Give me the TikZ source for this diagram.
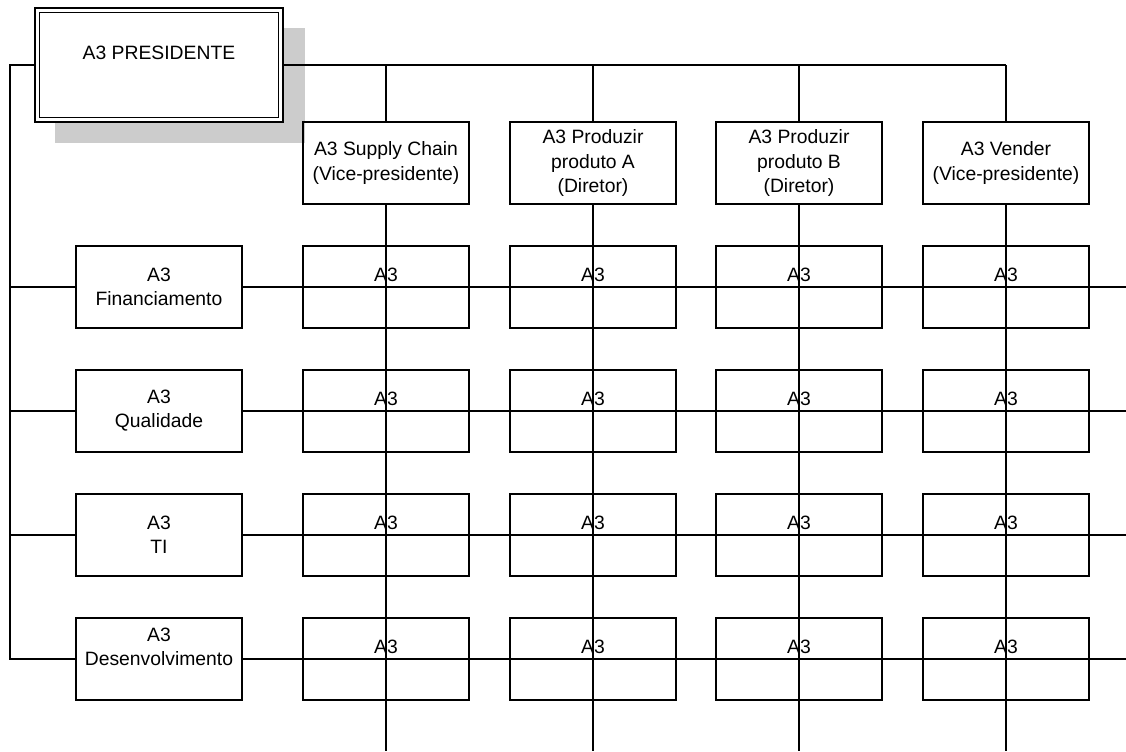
\documentclass[tikz,border=0pt]{standalone}
\usepackage{fontspec}
\setmainfont{Liberation Sans}

\begin{document}
\begin{tikzpicture}[x=0.02cm, y=-0.02cm, line width=0.7pt,
	font=\fontsize{11}{13.7}\selectfont,
	caja/.style={draw, minimum width=3.32cm, minimum height=1.64cm, inner sep=0pt, align=center}]
	
	% Marco
	\useasboundingbox (0,0) rectangle (1126,751);
	
	% Sombra del presidente
	\fill[black!20] (55,28) rectangle (305,143);
	
	% Presidente
	\node[draw, double, double distance=0.06cm, fill=white, minimum width=4.88cm, minimum height=2.2cm,
		inner sep=0pt, outer sep=0.055cm, align=center] (p) at (159,65) {A3 PRESIDENTE\\ \mbox{}};
	
	% Columnas (vicepresidentes y directores)
	\node[caja] (c1) at (386,163) {A3 Supply Chain\\(Vice-presidente)};
	\node[caja] (c2) at (593,163) {A3 Produzir\\produto A\\(Diretor)};
	\node[caja] (c3) at (799,163) {A3 Produzir\\produto B\\(Diretor)};
	\node[caja] (c4) at (1006,163) {A3 Vender\\(Vice-presidente)};
	
	% Filas (funciones)
	\node[caja] (f1) at (159,287) {A3\\Financiamento};
	\node[caja] (f2) at (159,411) {A3\\Qualidade};
	\node[caja] (f3) at (159,535) {A3\\TI};
	\node[caja] (f4) at (159,659) {A3\\Desenvolvimento\\ \mbox{}};
	
	% Cuadricula de A3
	\foreach \c in {1,...,4}
		\foreach \f in {1,...,4}
			\node[caja] (c\c-\f) at (c\c |- f\f) {A3\\ \mbox{}};
	
	% Puntos auxiliares
	\coordinate (esq) at (10,65);    % Esquina izquierda
	\coordinate (fin) at (1126,751); % Borde derecho e inferior
	
	% Lineas de la izquierda
	\draw (p.west) -- (esq) |- (f4.west);
	\foreach \f in {1,2,3}
		\draw (esq |- f\f.west) -- (f\f.west);
	
	% Lineas de las columnas
	\draw (p.east) -- (c4.north |- p.east);
	\foreach \c in {1,...,4} {
		\draw (c\c.north |- p.east) -- (c\c.north);
		\draw (c\c.south) -- (c\c.south |- fin);
	}
	
	% Lineas de las filas
	\foreach \f in {1,...,4}
		\draw (f\f.east) -- (f\f.east -| fin);
	
\end{tikzpicture}
\end{document}
